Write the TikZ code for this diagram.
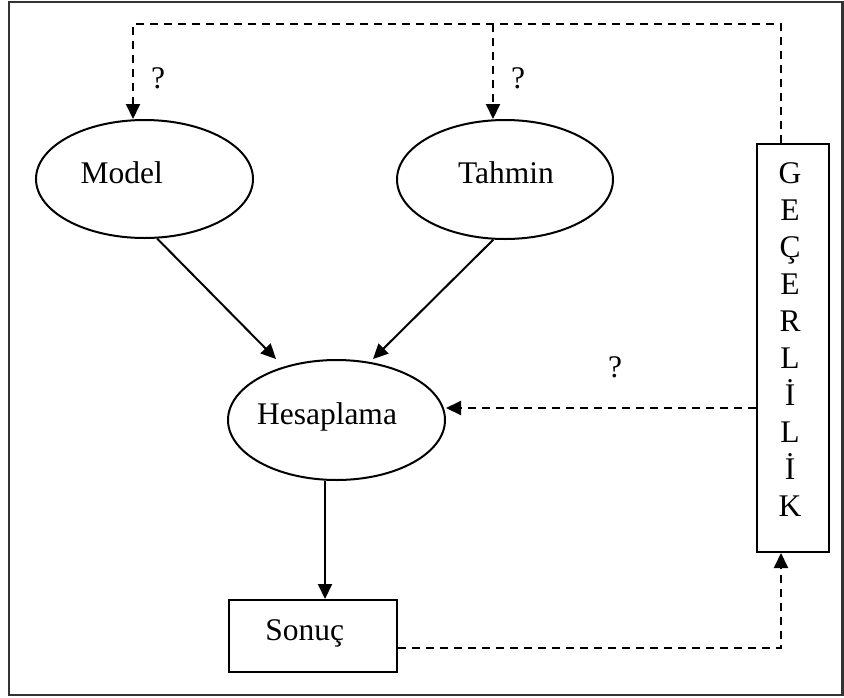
\documentclass[tikz,border=0pt]{standalone}
\usepackage{fontspec}
\setmainfont{Liberation Serif}
\usetikzlibrary{arrows.meta,shapes.geometric}

\begin{document}
\begin{tikzpicture}[x=1pt,y=-1pt,
  lbl/.style={font=\fontsize{31.5}{37}\selectfont, inner sep=0pt, anchor=base},
  oval/.style={draw, line width=2pt, ellipse, inner sep=0pt},
  boxed/.style={draw, line width=2pt, rectangle, inner sep=0pt},
  tip/.style={-{Triangle[length=15pt,width=14pt]}},
  solidarrow/.style={line width=2pt, tip},
  dashline/.style={line width=2pt, dash pattern=on 8pt off 6pt},
  dasharrow/.style={dashline, tip}]

\useasboundingbox (0,0) rectangle (844,697);

% outer frame
\draw[line width=2.5pt, black!80] (9,2) rectangle (842.5,695);

% ellipses
\node[oval, minimum width=217pt, minimum height=118pt] (model) at (144.5,179) {};
\node[oval, minimum width=216pt, minimum height=119pt] (tahmin) at (505,179.5) {};
\node[oval, minimum width=217pt, minimum height=120pt] (hesap) at (336.5,420) {};

% boxes
\node[boxed, minimum width=168pt, minimum height=72pt] (sonuc) at (313,636) {};
\node[boxed, minimum width=72pt, minimum height=408pt] (gbox) at (793,348) {};

% texts
\node[lbl] (tmodel) at (121.7,183) {Model};
\node[lbl] (ttahmin) at (506,183) {Tahmin};
\node[lbl] (thesap) at (327,424) {Hesaplama};
\node[lbl] (tsonuc) at (304.7,640) {Sonuç};
\node[lbl] (q1) at (158,88) {?};
\node[lbl] (q2) at (518,88) {?};
\node[lbl] (q3) at (615,377) {?};
\foreach \ch [count=\i from 0] in {G,E,Ç,E,R,L,İ,L,İ,K}
  \node[lbl] (g\i) at (790,183+37.1*\i) {\ch};

% routing points
\coordinate (tl) at (133,24);
\coordinate (tm) at (493,24);
\coordinate (tr) at (781,24);
\coordinate (hy) at (0,408);
\coordinate (sy) at (0,648);
\coordinate (vx) at (325,0);
\coordinate (hl) at (276,359);
\coordinate (hr) at (373,359);

% feedback from the validity box to the upper ellipses
\draw[dasharrow] (tr |- gbox.north) -- (tr) -- (tl) -- (tl |- model.north);
\draw[dasharrow] (tm) -- (tm |- tahmin.north);

% feedback to the computation
\draw[dasharrow] (gbox.west |- hy) -- (hesap.east |- hy);

% result to the validity box
\draw[dasharrow] (sonuc.east |- sy) -- (tr |- sy) -- (tr |- gbox.south);

% main flow
\draw[solidarrow] (model.-78) -- (hl);
\draw[solidarrow] (tahmin.-101) -- (hr);
\draw[solidarrow] (vx |- hesap.south) -- (vx |- sonuc.north);

\end{tikzpicture}
\end{document}
